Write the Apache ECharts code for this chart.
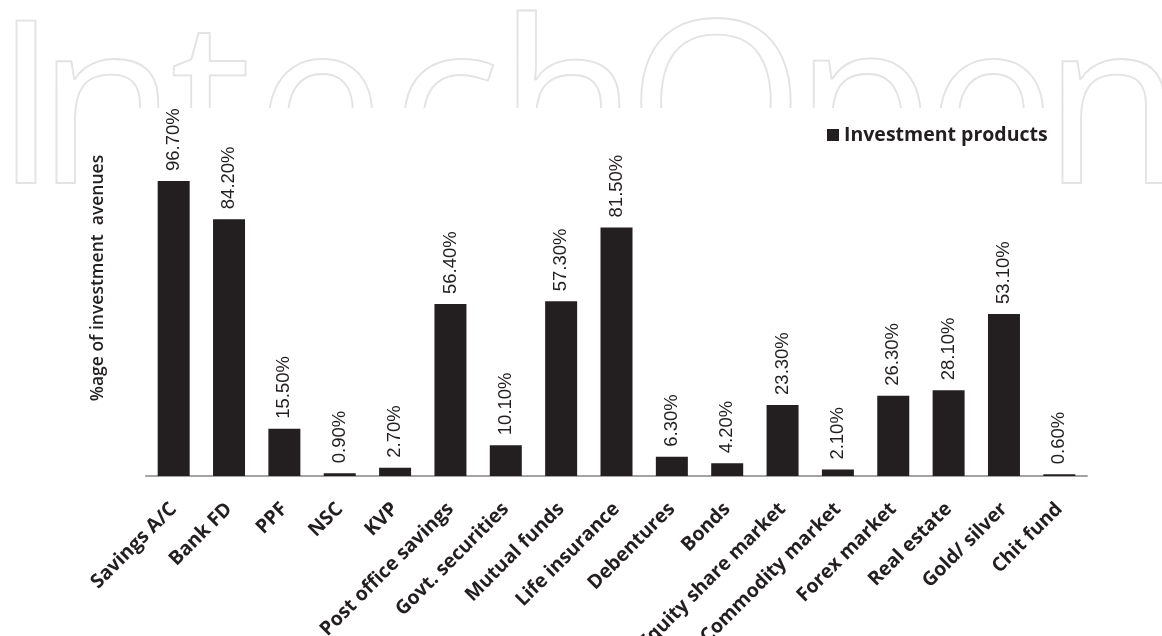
<!DOCTYPE html>
<html>
<head>
<meta charset="utf-8">
<script src="https://cdn.jsdelivr.net/npm/echarts@6/dist/echarts.min.js"></script>
<style>
  html, body { margin: 0; padding: 0; background: #fff; }
  #chart { width: 1162px; height: 636px; }
</style>
</head>
<body>
<div id="chart"></div>
<script>
// Share of respondents using each investment avenue (%)
const categories = [
  'Savings A/C', 'Bank FD', 'PPF', 'NSC', 'KVP', 'Post office savings',
  'Govt. securities', 'Mutual funds', 'Life insurance', 'Debentures', 'Bonds',
  'Equity share market', 'Commodity market', 'Forex market', 'Real estate',
  'Gold/ silver', 'Chit fund'
];
const values = [96.7, 84.2, 15.5, 0.9, 2.7, 56.4, 10.1, 57.3, 81.5, 6.3, 4.2, 23.3, 2.1, 26.3, 28.1, 53.1, 0.6];
const seriesName = 'Investment products';
const yAxisTitle = '%age of investment  avenues';

// Publisher mark drawn as outlined letters across the top
const markLetters = ['I', 'n', 't', 'e', 'c', 'h', 'O', 'p', 'e', 'n'];
const markCenters = [26, 107, 211, 320, 446, 568, 716, 864, 991, 1113];

const ink = '#231f20';

const markGroup = {
  type: 'group',
  z: 0,
  children: markLetters.map((ch, i) => ({
    type: 'text',
    x: markCenters[i],
    y: 118,
    style: {
      text: ch,
      font: '228px "Open Sans"',
      align: 'center',
      verticalAlign: 'middle',
      fill: 'transparent',
      stroke: '#e3e3e3',
      lineWidth: 1.8
    }
  }))
};

const chart = echarts.init(document.getElementById('chart'), null, { renderer: 'canvas' });

chart.setOption({
  backgroundColor: '#ffffff',
  animation: false,
  graphic: [
    markGroup,
    {
      type: 'rect',
      z: 1,
      shape: { x: 88, y: 108, width: 972, height: 528 },
      style: { fill: '#ffffff' }
    },
    {
      type: 'text',
      z: 2,
      x: 98,
      y: 278,
      rotation: Math.PI / 2,
      style: {
        text: yAxisTitle,
        font: '600 17.5px "Open Sans"',
        fill: ink,
        align: 'center',
        verticalAlign: 'middle'
      }
    }
  ],
  legend: {
    z: 5,
    left: 822,
    top: 120,
    icon: 'rect',
    itemWidth: 12,
    itemHeight: 12,
    itemGap: 6,
    data: [seriesName],
    textStyle: {
      fontFamily: 'Open Sans',
      fontWeight: 'bold',
      fontSize: 19.5,
      color: ink
    }
  },
  grid: {
    left: 146, right: 75, top: 171, bottom: 160,
    containLabel: false,
    outerBoundsMode: 'none'
  },
  xAxis: {
    type: 'category',
    z: 5,
    data: categories,
    axisLine: { lineStyle: { color: '#a3a3a3', width: 2 } },
    axisTick: { show: false },
    axisLabel: {
      interval: 0,
      rotate: 45,
      margin: 30,
      fontFamily: 'Open Sans',
      fontWeight: 'bold',
      fontSize: 19.5,
      color: ink
    }
  },
  yAxis: {
    type: 'value',
    min: 0,
    max: 100,
    show: false,
    splitLine: { show: false }
  },
  series: [
    {
      name: seriesName,
      type: 'bar',
      z: 5,
      data: values,
      barWidth: 32,
      itemStyle: { color: ink },
      label: {
        show: true,
        position: 'top',
        rotate: 90,
        align: 'left',
        verticalAlign: 'middle',
        distance: 10,
        formatter: p => p.value.toFixed(2) + '%',
        fontFamily: 'Liberation Sans',
        fontSize: 18.5,
        color: ink
      }
    }
  ]
});
</script>
</body>
</html>
